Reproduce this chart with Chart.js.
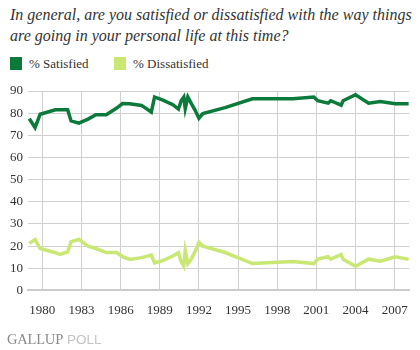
<!DOCTYPE html>
<html>
<head>
<meta charset="utf-8">
<script src="https://cdn.jsdelivr.net/npm/chart.js@4.4.1/dist/chart.umd.min.js"></script>
<style>
  body { margin: 0; background: #fff; }
  #wrap { position: relative; width: 420px; height: 350px; overflow: hidden; }
  #title { position: absolute; left: 10px; top: 4px; font: italic 16px "Liberation Serif", serif; line-height: 21px; color: #333; }
  .key { position: absolute; top: 56px; font: 13px "Liberation Serif", serif; color: #333; line-height: 15px; }
  .key i { position: absolute; left: 0; top: 1px; width: 12px; height: 13px; }
  .key span { position: absolute; left: 19px; top: 0; white-space: nowrap; }
  #box { position: absolute; left: 0; top: 78px; width: 420px; height: 272px; }
  #footer { position: absolute; left: 7px; top: 330px; white-space: nowrap; }
  #footer .g { font: 14.5px "Liberation Serif", serif; color: #8a8a8a; letter-spacing: -0.2px; }
  #footer .p { font: 13.5px "Liberation Sans", sans-serif; color: #c4c4c4; }
</style>
</head>
<body>
<div id="wrap">
  <div id="title">In general, are you satisfied or dissatisfied with the way things<br>are going in your personal life at this time?</div>
  <div id="legend"></div>
  <div id="box"><canvas id="c"></canvas></div>
  <div id="footer"><span class="g">GALLUP</span> <span class="p">POLL</span></div>
</div>
<script>
// survey dates (decimal years)
const years = [1979.0, 1979.44, 1979.83, 1981.0, 1981.35, 1981.94, 1982.2, 1982.8, 1983.5, 1984.1,
  1984.9, 1985.7, 1986.14, 1986.7, 1987.6, 1988.35, 1988.6, 1989.24, 1990.0, 1990.43,
  1990.64, 1990.84, 1990.95, 1991.15, 1991.4, 1991.7, 1992.0, 1992.3, 1994.0, 1996.1,
  1999.2, 2000.8, 2001.1, 2001.9, 2002.1, 2002.9, 2003.05, 2004.0, 2005.0, 2005.9,
  2007.05, 2008.07];
const satisfied = [77.5, 73.5, 79.5, 81.5, 81.5, 81.5, 76.5, 75.5, 77.3, 79.3,
  79.3, 82.3, 84.3, 84.2, 83.5, 80.5, 87.3, 85.9, 83.8, 81.8,
  85.6, 87.3, 82.1, 87.3, 84.5, 81.4, 77.7, 79.8, 82.5, 86.5,
  86.5, 87.3, 85.6, 84.5, 85.6, 83.6, 85.6, 88.3, 84.5, 85.3,
  84.2, 84.2];
const dissatisfied = [21.2, 23.0, 18.9, 17.0, 16.2, 17.4, 22.0, 23.0, 20.0, 18.9,
  17.1, 17.1, 15.2, 14.0, 14.8, 15.9, 12.4, 13.5, 15.5, 17.0,
  12.9, 10.9, 17.9, 12.1, 14.0, 17.5, 21.7, 20.0, 17.1, 12.1,
  13.0, 12.1, 14.1, 15.2, 14.1, 16.2, 14.0, 10.9, 14.1, 13.2,
  15.2, 14.0];
const xTicks = [1980, 1983, 1986, 1989, 1992, 1995, 1998, 2001, 2004, 2007];

const seriesNames = ['% Satisfied', '% Dissatisfied'];
const seriesColors = ['#0b7a3a', '#c8e873'];

const pts = vals => years.map((y, i) => ({ x: y, y: vals[i] }));
const serif = '"Liberation Serif", serif';

// simple html legend, same swatch positions as the original
const legendX = [10, 114];
document.getElementById('legend').innerHTML = seriesNames.map((n, i) =>
  `<div class="key" style="left:${legendX[i]}px"><i style="background:${seriesColors[i]}"></i><span>${n}</span></div>`
).join('');

new Chart(document.getElementById('c'), {
  type: 'line',
  data: {
    datasets: [satisfied, dissatisfied].map((vals, i) => ({
      label: seriesNames[i],
      data: pts(vals),
      borderColor: seriesColors[i],
      backgroundColor: seriesColors[i],
      borderWidth: 3.5,
      pointRadius: 0,
      tension: 0
    }))
  },
  options: {
    responsive: true,
    maintainAspectRatio: false,
    animation: false,
    layout: { padding: { top: 13, right: 9, bottom: 20, left: 0 } },
    plugins: {
      legend: { display: false },
      tooltip: { enabled: false }
    },
    scales: {
      x: {
        type: 'linear',
        min: 1978.9,
        max: 2008.1,
        afterBuildTicks: s => { s.ticks = xTicks.map(v => ({ value: v })); },
        ticks: { color: '#333', font: { family: serif, size: 13 }, padding: 12, maxRotation: 0, callback: v => String(v) },
        grid: { color: '#d0d0d0', drawTicks: false },
        border: { color: '#cccccc', width: 2 }
      },
      y: {
        min: 0,
        max: 90,
        afterFit: s => { s.width = 28; },
        ticks: { stepSize: 10, color: '#333', font: { family: serif, size: 13 }, padding: 5 },
        grid: { color: '#d0d0d0', drawTicks: false },
        border: { display: false }
      }
    }
  }
});
</script>
</body>
</html>
